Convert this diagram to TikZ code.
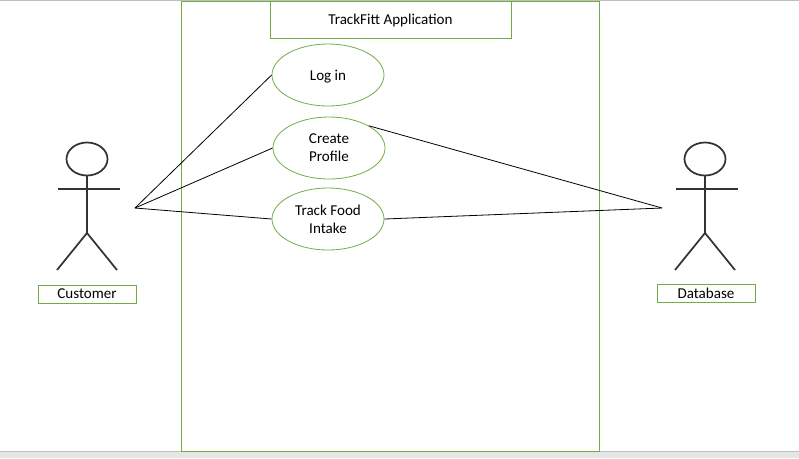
\documentclass[tikz,border=0pt]{standalone}
\usepackage{fontspec}
\setmainfont{Carlito}
\usetikzlibrary{positioning}
\usetikzlibrary{shapes.geometric}
\definecolor{mgreen}{HTML}{70AD47}
\definecolor{mstick}{HTML}{333333}
\definecolor{mband}{HTML}{E6E6E6}
\definecolor{medge}{HTML}{BFBFBF}
\tikzset{usecase/.style = {draw = mgreen, ellipse, align = center, inner sep = 0, minimum width = 84, minimum height = 46.5, line width = 0.6}}
\tikzset{namebox/.style = {draw = mgreen, inner sep = 0, minimum width = 73.5, minimum height = 13.5, line width = 0.75}}
\tikzset{oneline/.style = {text height = 9, text depth = 2}}
\tikzset{stick/.style = {mstick, line width = 1.3}}
\tikzset{link/.style = {black, line width = 0.6}}

\begin{document}
\begin{tikzpicture}[x=1pt, y=-1pt, scale=0.75, every node/.style={font=\fontsize{11.3}{13.5}\selectfont}]
    \useasboundingbox (0, 0) rectangle (799, 458);
    \fill [mband] (0, 451) rectangle (799, 458);
    \draw [medge, line width = 0.75] (0, 451) -- (799, 451);
    \draw [medge, line width = 0.75] (0, 0.5) -- (799, 0.5);

    \draw [mgreen, line width = 0.75] (181.5, 1) rectangle (599.5, 451);
    \node [draw = mgreen, inner sep = 0, minimum width = 180.75, minimum height = 27.75, line width = 0.75, oneline] (title) at (390.5, 19.5) {TrackFitt Application};

    \node [usecase, text height = 10, text depth = 2] (login) at (328, 75) {Log in};
    \node [usecase] (create) at (329, 148) {Create\\Profile};
    \node [usecase] (track) at (328, 219) {Track Food\\Intake};

    \begin{scope}[shift={(87, 0)}]
      \draw [stick] (0, 159) ellipse [x radius=20.5, y radius=16.5];
      \draw [stick] (0, 176) -- (0, 233);
      \draw [stick] (-29, 189) -- (33, 189);
      \draw [stick] (-30, 270) -- (0, 233) -- (30, 270);

      \node [namebox, oneline] (customer) at (0, 294) {Customer};
    \end{scope}
    \begin{scope}[shift={(705, 0)}]
      \draw [stick] (0, 159) ellipse [x radius=20.5, y radius=16.5];
      \draw [stick] (0, 176) -- (0, 233);
      \draw [stick] (-29, 189) -- (33, 189);
      \draw [stick] (-30, 270) -- (0, 233) -- (30, 270);

      \node [namebox] (database) at (1, 293) {Database};
    \end{scope}

    \coordinate (customerhand) at (135, 208);
    \coordinate (databasehand) at (662, 208);

    \draw [link] (customerhand) -- (login.west);
    \draw [link] (customerhand) -- (create.west);
    \draw [link] (customerhand) -- (track.west);
    \draw [link] (create.north east) -- (databasehand);
    \draw [link] (track.east) -- (databasehand);
\end{tikzpicture}
\end{document}
